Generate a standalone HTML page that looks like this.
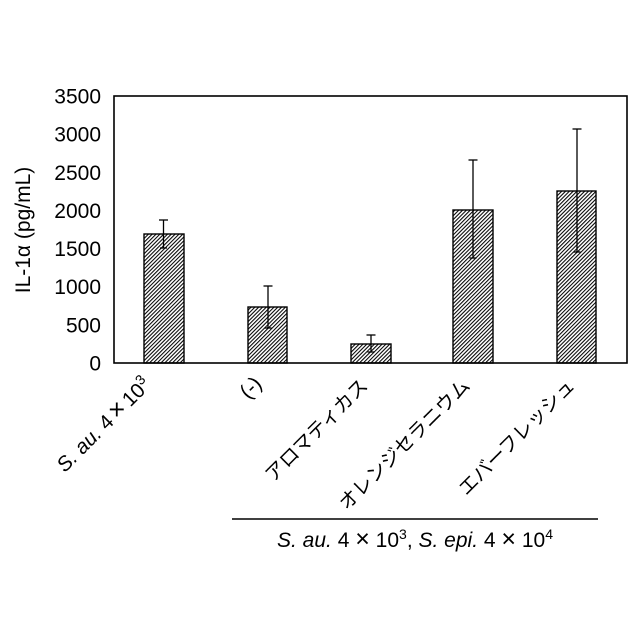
<!DOCTYPE html>
<html>
<head>
<meta charset="utf-8">
<style>
  html, body { margin: 0; padding: 0; background: #ffffff; }
  svg { display: block; }
  text { font-family: "Liberation Sans", "Noto Sans CJK JP", sans-serif; fill: #000; }
  .jp { font-family: "Noto Sans CJK JP", "Liberation Sans", sans-serif; }
</style>
</head>
<body>
<svg width="640" height="640" viewBox="0 0 640 640" xmlns="http://www.w3.org/2000/svg">
  <defs>
    <pattern id="hatch" patternUnits="userSpaceOnUse" width="2.7" height="10" patternTransform="rotate(45)">
      <rect x="0" y="0" width="1.05" height="10" fill="#000"/>
    </pattern>
  </defs>
  <rect x="0" y="0" width="640" height="640" fill="#fff"/>

  <!-- bars -->
  <g stroke="#000" stroke-width="1.4">
    <rect x="144" y="234" width="40" height="129" fill="url(#hatch)"/>
    <rect x="248" y="307" width="39" height="56" fill="url(#hatch)"/>
    <rect x="351" y="344" width="40" height="19" fill="url(#hatch)"/>
    <rect x="453" y="210" width="40" height="153" fill="url(#hatch)"/>
    <rect x="557" y="191" width="39" height="172" fill="url(#hatch)"/>
  </g>

  <!-- error bars -->
  <g stroke="#000" stroke-width="1.3" fill="none">
    <line x1="163.5" y1="220" x2="163.5" y2="248"/>
    <line x1="159" y1="220" x2="168" y2="220"/>
    <line x1="160" y1="248" x2="167" y2="248"/>

    <line x1="268" y1="286" x2="268" y2="328"/>
    <line x1="263.5" y1="286" x2="272.5" y2="286"/>
    <line x1="264.5" y1="328" x2="271.5" y2="328"/>

    <line x1="371" y1="335" x2="371" y2="352"/>
    <line x1="366.5" y1="335" x2="375.5" y2="335"/>
    <line x1="367.5" y1="352" x2="374.5" y2="352"/>

    <line x1="473" y1="160" x2="473" y2="258"/>
    <line x1="468.5" y1="160" x2="477.5" y2="160"/>
    <line x1="469.5" y1="258" x2="476.5" y2="258"/>

    <line x1="577" y1="129" x2="577" y2="252"/>
    <line x1="572.5" y1="129" x2="581.5" y2="129"/>
    <line x1="573.5" y1="252" x2="580.5" y2="252"/>
  </g>

  <!-- frame -->
  <rect x="114" y="96" width="513" height="267" fill="none" stroke="#000" stroke-width="1.6"/>

  <!-- y tick labels -->
  <g font-size="21" text-anchor="end">
    <text x="101" y="103.5">3500</text>
    <text x="101" y="141.6">3000</text>
    <text x="101" y="179.8">2500</text>
    <text x="101" y="217.9">2000</text>
    <text x="101" y="256.1">1500</text>
    <text x="101" y="294.2">1000</text>
    <text x="101" y="332.4">500</text>
    <text x="101" y="370.5">0</text>
  </g>

  <!-- y axis label -->
  <text transform="translate(30,230) rotate(-90)" font-size="21" text-anchor="middle">IL-1α (pg/mL)</text>

  <!-- x labels -->
  <text transform="translate(152,386) rotate(-45)" font-size="20.5" text-anchor="end"><tspan font-style="italic">S. au.</tspan> 4<tspan font-size="13"> </tspan><tspan font-size="25">×</tspan><tspan font-size="13"> </tspan>10<tspan font-size="14" dy="-8">3</tspan></text>
  <text transform="translate(263,385) rotate(-45)" font-size="21" text-anchor="end">(-)</text>
  <text class="jp" transform="translate(369,387) rotate(-45)" font-size="19.5" text-anchor="end">アロマティカス</text>
  <text class="jp" transform="translate(471,387) rotate(-45)" font-size="19.5" text-anchor="end">オレンジセラニウム</text>
  <text class="jp" transform="translate(576,387) rotate(-45)" font-size="19.5" text-anchor="end">エバーフレッシュ</text>

  <!-- group line and label -->
  <line x1="232" y1="519" x2="598" y2="519" stroke="#000" stroke-width="1.5"/>
  <text x="415" y="547" font-size="21" text-anchor="middle"><tspan font-style="italic">S. au.</tspan> 4 <tspan font-size="25">×</tspan> 10<tspan font-size="14" dy="-8">3</tspan><tspan dy="8">, </tspan><tspan font-style="italic">S. epi.</tspan> 4 <tspan font-size="25">×</tspan> 10<tspan font-size="14" dy="-8">4</tspan></text>
</svg>
</body>
</html>
